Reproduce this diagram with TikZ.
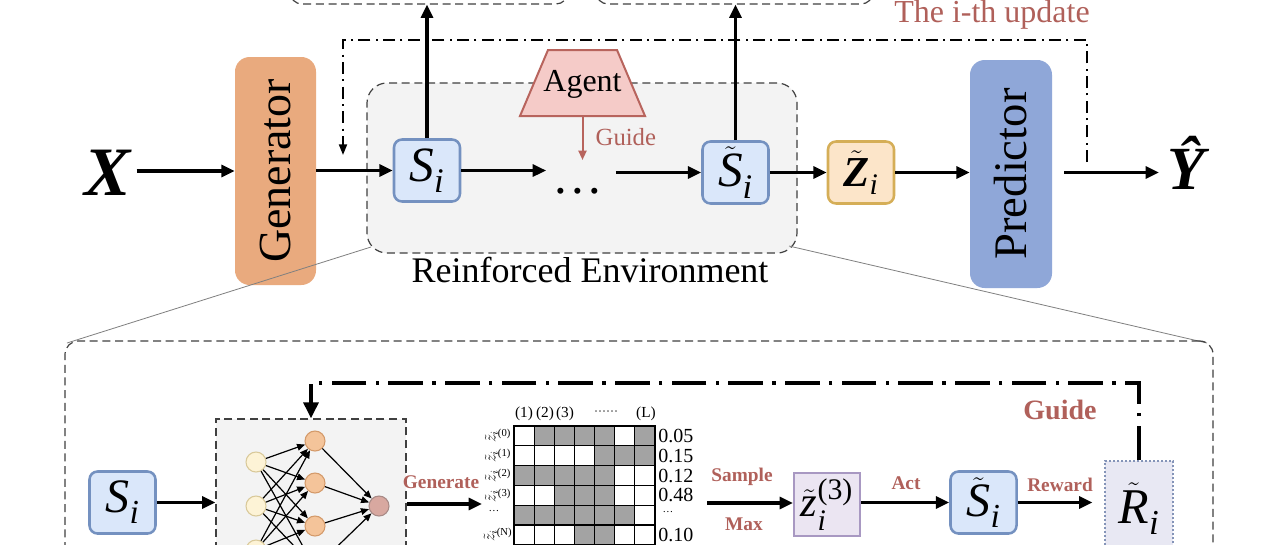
\documentclass[tikz,border=0pt]{standalone}
\usepackage{fontspec}
\usepackage{amsmath}
\setmainfont{Liberation Serif}
\usetikzlibrary{arrows.meta,calc}
\definecolor{brn}{HTML}{B0605A}
\definecolor{genc}{HTML}{E9AA7E}
\definecolor{predc}{HTML}{8FA7D8}
\definecolor{envc}{HTML}{F3F3F3}
\definecolor{bfill}{HTML}{DAE7FA}
\definecolor{bdraw}{HTML}{7491C0}
\definecolor{ofill}{HTML}{FCE5C9}
\definecolor{odraw}{HTML}{D5AE57}
\definecolor{afill}{HTML}{F5CBC8}
\definecolor{adraw}{HTML}{B8645D}
\definecolor{pfill}{HTML}{EBE5F2}
\definecolor{pdraw}{HTML}{A898C2}
\definecolor{rfill}{HTML}{E8E8F3}
\definecolor{rdraw}{HTML}{8494B8}
\definecolor{cellg}{HTML}{A3A3A3}
\definecolor{nonef}{HTML}{FDF3D6}\definecolor{noned}{HTML}{D9C99A}
\definecolor{ntwof}{HTML}{F4C49A}\definecolor{ntwod}{HTML}{D49A6A}
\definecolor{nthrf}{HTML}{D8A8A0}\definecolor{nthrd}{HTML}{A88A86}
\newcommand\fsz[1]{\fontsize{#1pt}{#1pt}\selectfont}
\newcommand\itx[1]{\text{\itshape #1}}
\begin{document}
\begin{tikzpicture}[x=0.75pt,y=-0.75pt,
 arr/.style={line width=2.3pt,-{Triangle[length=10pt,width=9pt]}},
 sbox/.style={draw=bdraw,fill=bfill,line width=1.9pt,rounded corners=6pt,minimum width=49.5pt,minimum height=46.5pt,inner sep=0pt},
 lbl/.style={text=brn,font=\bfseries\fsz{14.5}},
 ddu/.style={line width=1.5pt,dash pattern=on 9pt off 4pt on 1.5pt off 4pt},
 ddl/.style={line width=3pt,dash pattern=on 26pt off 7pt on 2.5pt off 7pt},
 dbox/.style={draw=black!75,line width=0.9pt,dash pattern=on 6pt off 3.5pt},
 neu/.style={circle,minimum size=15pt,inner sep=0pt,line width=0.8pt},
 nnarr/.style={line width=0.9pt,-{Triangle[length=6pt,width=5pt]}},
 mtxt/.style={font=\fsz{15},anchor=west,inner sep=0pt},
]
\useasboundingbox (0,0) rectangle (1280,544);
\clip (0,0) rectangle (1280,544);
\fill[white] (0,0) rectangle (1280,544);

% top partially visible boxes
\node[dbox,rounded corners=9pt,minimum width=208.5pt,minimum height=36pt] (tb1) at (429,-20) {};
\node[dbox,rounded corners=9pt,minimum width=207.75pt,minimum height=36pt] (tb2) at (734.5,-20) {};

% environment box
\node[dbox,fill=envc,rounded corners=15pt,minimum width=322.5pt,minimum height=127.5pt] (env) at (582,168) {};
\node[font=\fsz{27}] (envl) at (590,270) {Reinforced Environment};

% i-th update loop
\coordinate (ur) at (1087,162);
\coordinate (ul) at (343,155);
\draw[ddu,-{Triangle[length=8pt,width=6pt]}] (ur) -- (1087,40) -- (343,40) -- (ul);
\node[text=brn,font=\fsz{24}] (upd) at (992,15) {The i-th update};

% agent
\draw[draw=adraw,fill=afill,line width=1.5pt] (520,116) -- (548,50) -- (617,50) -- (645,116) -- cycle;
\node[font=\fsz{24}] (agent) at (582.5,84) {Agent};
\coordinate (ab) at (582.5,116);
\coordinate (ag) at (582.5,160);
\draw[draw=adraw,line width=1.5pt,-{Triangle[length=7pt,width=6pt]}] (ab) -- (ag);
\node[text=brn,font=\fsz{18.5},anchor=west] (guideu) at (591,137) {Guide};

% main chain
\node[font=\bfseries\itshape\fsz{52},inner sep=0pt] (X) at (108,173) {X};
\node[fill=genc,rounded corners=11pt,minimum width=60.75pt,minimum height=171pt] (gen) at (275.5,171) {};
\node[font=\fsz{34.5}] (genl) at (gen) {\rotatebox{90}{Generator}};
\draw[arr] ([xshift=4pt]X.east |- gen) -- (gen.west);

\node[sbox,font=\fsz{37}] (si) at (427,170.5) {$\itx{S}_{\itx{i}}$};
\draw[arr] (gen.east |- si) -- (si.west);
\draw[arr] (si.north) -- (si.north |- tb1.south);

\node[minimum width=52pt,inner sep=0pt] (gap) at (581,170.5) {};
\node[font=\fsz{38},anchor=base] (dots) at (578,193) {\dots};
\draw[arr] (si.east) -- (gap.west);

\node[sbox,font=\fsz{37}] (st) at (735.5,172.5) {$\tilde{\itx{S}}_{\itx{i}}$};
\draw[arr] (gap.east |- st) -- (st.west);
\draw[arr] (st.north) -- (st.north |- tb2.south);

\node[sbox,draw=odraw,fill=ofill,font=\fsz{32}] (zt) at (861,172.5) {$\tilde{\text{\bfseries\itshape Z}}_{\itx{i}}$};
\draw[arr] (st.east) -- (zt.west);

\node[fill=predc,rounded corners=11pt,minimum width=61.5pt,minimum height=171pt] (pred) at (1011,174) {};
\node[font=\fsz{35}] (predl) at (pred) {\rotatebox{90}{Predictor}};
\draw[arr] (zt.east) -- (zt.east -| pred.west);

\node[font=\bfseries\itshape\fsz{46},inner sep=0pt] (Y) at (1186,163) {\^{Y}};
\draw[arr] ([xshift=9pt]pred.east |- zt) -- ([xshift=-6pt]Y.west |- zt);

% zoom lines
\coordinate (zl1) at (371,247);
\coordinate (zl2) at (67,343);
\coordinate (zr1) at (789,246);
\coordinate (zr2) at (1207,343);
\draw[gray,line width=0.6pt] (zl1) -- (zl2);
\draw[gray,line width=0.6pt] (zr1) -- (zr2);

% lower box
\node[dbox,rounded corners=10pt,minimum width=861pt,minimum height=209.25pt] (lbox) at (639,480.5) {};

% NN box
\node[dbox,fill=envc,minimum width=142.5pt,minimum height=135.75pt] (nn) at (311,509.5) {};
% reward box
\node[draw=rdraw,fill=rfill,line width=0.9pt,dash pattern=on 1.5pt off 1.5pt,minimum width=51pt,minimum height=103.5pt] (rt) at (1139,530) {};
\draw[ddl,-{Triangle[length=12pt,width=11pt]}] (rt.north) -- (1139,383) -- (311,383) -- (nn.north);
\node[text=brn,font=\bfseries\fsz{21}] (guidel) at (1060,410) {Guide};

\node[sbox,font=\fsz{36}] (si2) at (122.5,502.5) {$\itx{S}_{\itx{i}}$};
\draw[arr] (si2.east) -- (nn.west |- si2);

% neurons
\foreach \n/\y in {1/462,2/506,3/550} \node[neu,fill=nonef,draw=noned] (a\n) at (256,\y) {};
\foreach \n/\y in {1/441,2/483,3/526,4/568} \node[neu,fill=ntwof,draw=ntwod] (b\n) at (315,\y) {};
\node[neu,fill=nthrf,draw=nthrd] (c) at (379,506) {};
\foreach \i in {1,2,3} \foreach \j in {1,2,3,4} \draw[nnarr] (a\i) -- (b\j);
\foreach \j in {1,2,3,4} \draw[nnarr] (b\j) -- (c);

\node[lbl] (gl) at (441,482) {Generate};
\coordinate (mg) at (482,504);
\draw[arr] (nn.east |- mg) -- (mg);

% matrix
\foreach \r/\row in {0/{0,1,1,1,1,0,1},1/{0,0,0,0,1,1,1},2/{1,1,1,1,1,0,0},3/{0,0,1,1,1,0,0},4/{1,1,1,1,1,1,0},5/{0,0,0,1,1,0,0}}{
  \foreach \v [count=\c from 0] in \row {
    \def\cc{white}\ifnum\v=1 \def\cc{cellg}\fi
    \filldraw[fill=\cc,draw=black,line width=0.8pt] ({514+\c*20.14},{426+\r*19.8}) rectangle ++(20.14,19.8);
  }
}
\foreach \r/\s in {0/(0),1/(1),2/(2),3/(3),5/(N)}
  \node[font=\fsz{12},inner sep=0pt] at (498,{436+\r*19.8}) {\rotatebox{90}{$\tilde{z}_{i}$}${}^{\text{\s}}$};
\node[font=\fsz{8}] at (494,511) {\dots};
\node[font=\fsz{11.5}] at (524,414) {(1)};
\node[font=\fsz{11.5}] at (545,414) {(2)};
\node[font=\fsz{11.5}] at (565,414) {(3)};
\node[font=\fsz{9}] at (606,413) {······};
\node[font=\fsz{11.5}] at (646,414) {(L)};
\node[mtxt] at (658,436) {0.05};
\node[mtxt] at (658,456) {0.15};
\node[mtxt] at (658,476) {0.12};
\node[mtxt] at (658,495) {0.48};
\node[font=\fsz{8}] at (668,512) {\dots};
\node[mtxt] at (658,535) {0.10};

\node[lbl] (sl) at (742,477) {Sample};
\node[lbl] (ml) at (744,524) {Max};
\node[draw=pdraw,fill=pfill,line width=1.6pt,minimum width=49.5pt,minimum height=47pt,inner sep=0pt,font=\fsz{32}] (zb) at (827,504.5) {$\tilde{\itx{z}}^{\text{(3)}}_{\itx{i}}$};
\coordinate (ms) at (707,503);
\draw[arr] (ms) -- (ms -| zb.west);

\node[lbl] (al) at (906,483) {Act};
\node[sbox,font=\fsz{36}] (st2) at (983.5,502.5) {$\tilde{\itx{S}}_{\itx{i}}$};
\draw[arr] (zb.east |- st2) -- (st2.west);

\node[lbl] (rl) at (1060,485) {Reward};
\draw[arr] (st2.east) -- ([xshift=-9pt]rt.west |- st2);
\node[font=\fsz{37.5},anchor=base] (rtxt) at (1139,523) {$\tilde{\itx{R}}_{\itx{i}}$};
\end{tikzpicture}
\end{document}
